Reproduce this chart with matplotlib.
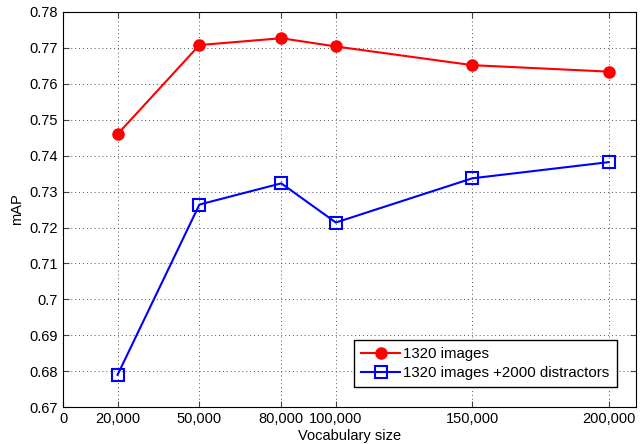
import numpy as np
import matplotlib
matplotlib.use('Agg')
import matplotlib.pyplot as plt

plt.rcParams['font.family'] = ['Liberation Sans', 'DejaVu Sans']

vocab = [20000, 50000, 80000, 100000, 150000, 200000]
map_images = [0.746, 0.7708, 0.7727, 0.7704, 0.7652, 0.7634]
map_distract = [0.6790, 0.7264, 0.7323, 0.7214, 0.7337, 0.7382]
xticks = [0, 20000, 50000, 80000, 100000, 150000, 200000]
xtick_labels = ['0', '20,000', '50,000', '80,000', '100,000', '150,000', '200,000']
yticks = np.round(np.arange(0.67, 0.7801, 0.01), 2)

fig = plt.figure(figsize=(6.43, 4.44), dpi=100)
ax = fig.add_axes([0.098, 0.083, 0.891, 0.890])

ax.plot(vocab, map_images, '-o', color='red', lw=1.5, markersize=8, label='1320 images')
ax.plot(vocab, map_distract, '-s', color='blue', lw=1.5, markersize=8,
        markerfacecolor='none', markeredgewidth=1.5, label='1320 images +2000 distractors')

ax.set_xlim(0, 210000)
ax.set_ylim(0.67, 0.78)
ax.set_xticks(xticks)
ax.set_xticklabels(xtick_labels)
ax.set_yticks(yticks)
ax.set_yticklabels([('%.2f' % v).rstrip('0') for v in yticks])
ax.tick_params(direction='in', top=True, right=True, labelsize=10.5, length=4, color='#444444')
ax.grid(True, linestyle=(0, (1, 3)), color='#555555', lw=0.7)
ax.set_xlabel('Vocabulary size', fontsize=10.5, labelpad=2)
ax.set_ylabel('mAP', fontsize=10.5)

ax.legend(loc='lower right', bbox_to_anchor=(0.967, 0.05), borderaxespad=0,
          fontsize=10.8, fancybox=False, edgecolor='black', framealpha=1,
          borderpad=0.5, handlelength=2.6, handletextpad=0.2, labelspacing=0.3)

fig.savefig('out.png', dpi=100)
